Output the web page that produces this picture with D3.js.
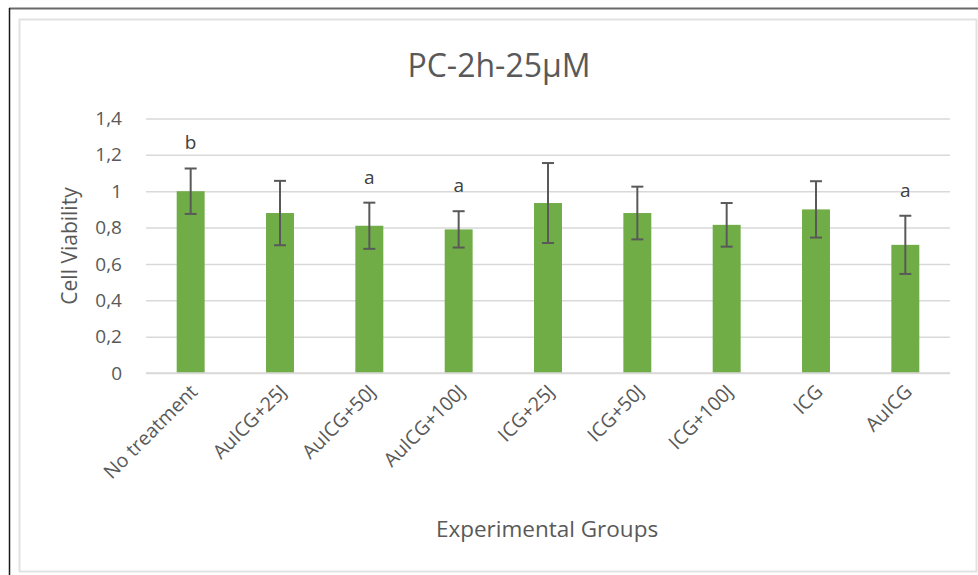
<!DOCTYPE html>
<html>
<head>
<meta charset="utf-8">
<script src="https://cdn.jsdelivr.net/npm/d3@7"></script>
<style>
  html, body { margin: 0; padding: 0; background: #ffffff; }
  svg { display: block; }
  text { font-family: "Open Sans", "Noto Sans", sans-serif; }
</style>
</head>
<body>
<script>
// Cell viability per experimental group (mean ± error), with significance letters
const categories = ["No treatment", "AuICG+25J", "AuICG+50J", "AuICG+100J", "ICG+25J", "ICG+50J", "ICG+100J", "ICG", "AuICG"];
const viability = [1.00, 0.88, 0.81, 0.79, 0.935, 0.88, 0.815, 0.90, 0.705];
const errors = [0.125, 0.177, 0.127, 0.10, 0.22, 0.145, 0.12, 0.155, 0.16];
const sigLetters = ["b", "", "a", "a", "", "", "", "", "a"];
const yTicks = [0, 0.2, 0.4, 0.6, 0.8, 1.0, 1.2, 1.4];

const W = 978, H = 575;
const plot = { left: 146, right: 950, top: 118.5, bottom: 373 };

const svg = d3.select("body").append("svg")
  .attr("width", W).attr("height", H);

// page frame
svg.append("line").attr("x1", 9).attr("x2", W).attr("y1", 8.5).attr("y2", 8.5)
  .attr("stroke", "#6a6a6a").attr("stroke-width", 2);
svg.append("line").attr("x1", 9.5).attr("x2", 9.5).attr("y1", 8).attr("y2", H)
  .attr("stroke", "#1a1a1a").attr("stroke-width", 1.5);

// chart area border
svg.append("rect").attr("x", 19.5).attr("y", 19.5).attr("width", 957).attr("height", 552)
  .attr("fill", "#ffffff").attr("stroke", "#e2e2e2").attr("stroke-width", 2);

const x = d3.scaleBand()
  .domain(categories)
  .range([plot.left, plot.right])
  .paddingInner(0.687)
  .paddingOuter(0.3435);

const y = d3.scaleLinear().domain([0, 1.4]).range([plot.bottom, plot.top]);

const fmt = v => (Math.abs(v) < 1e-9 ? "0" : String(+v.toFixed(1)).replace(".", ","));

// horizontal gridlines + y tick labels
const yAxis = d3.axisLeft(y).tickValues(yTicks).tickFormat(fmt)
  .tickSize(-(plot.right - plot.left)).tickPadding(24);
const gy = svg.append("g").attr("transform", `translate(${plot.left},0)`).call(yAxis);
gy.select(".domain").remove();
gy.selectAll(".tick line").attr("stroke", "#d9d9d9").attr("stroke-width", 1.5);
gy.selectAll(".tick text").attr("fill", "#595959").attr("font-size", 19);

// bars
svg.append("g").selectAll("rect").data(categories).join("rect")
  .attr("x", d => x(d))
  .attr("width", x.bandwidth())
  .attr("y", (d, i) => y(viability[i]))
  .attr("height", (d, i) => y(0) - y(viability[i]))
  .attr("fill", "#70ad47");

// error bars
const eg = svg.append("g").attr("stroke", "#595959").attr("stroke-width", 2);
categories.forEach((c, i) => {
  const cx = x(c) + x.bandwidth() / 2;
  const hi = y(viability[i] + errors[i]);
  const lo = y(viability[i] - errors[i]);
  eg.append("line").attr("x1", cx).attr("x2", cx).attr("y1", hi).attr("y2", lo);
  eg.append("line").attr("x1", cx - 6).attr("x2", cx + 6).attr("y1", hi).attr("y2", hi);
  eg.append("line").attr("x1", cx - 6).attr("x2", cx + 6).attr("y1", lo).attr("y2", lo);
});

// significance letters
svg.append("g").selectAll("text").data(categories).join("text")
  .attr("x", d => x(d) + x.bandwidth() / 2)
  .attr("y", (d, i) => y(viability[i] + errors[i]) - 19)
  .attr("text-anchor", "middle")
  .attr("font-size", 19)
  .attr("fill", "#404040")
  .text((d, i) => sigLetters[i]);

// x category labels, rotated
const gx = svg.append("g").attr("transform", `translate(0,${plot.bottom})`)
  .call(d3.axisBottom(x).tickSize(0).tickPadding(0));
gx.select(".domain").attr("stroke", "#d9d9d9").attr("stroke-width", 1.5)
  .attr("d", `M${plot.left},0H${plot.right}`);
gx.selectAll(".tick text")
  .attr("fill", "#595959")
  .attr("font-size", 19.5)
  .attr("text-anchor", "end")
  .attr("dy", 0)
  .attr("y", 0)
  .attr("transform", "translate(8,20) rotate(-45)");

// title
svg.append("text").attr("x", 499).attr("y", 77).attr("text-anchor", "middle")
  .attr("font-size", 32).attr("fill", "#595959").text("PC-2h-25µM");

// axis titles
svg.append("text").attr("x", 547).attr("y", 537).attr("text-anchor", "middle")
  .attr("font-size", 22.5).attr("fill", "#595959").text("Experimental Groups");
svg.append("text").attr("transform", "translate(77,246) rotate(-90)")
  .attr("text-anchor", "middle")
  .attr("font-size", 21).attr("fill", "#595959").text("Cell Viability");
</script>
</body>
</html>
